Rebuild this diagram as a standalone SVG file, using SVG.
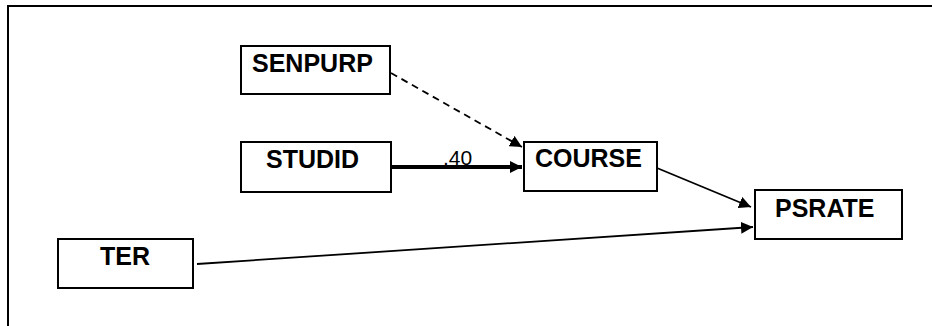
<svg xmlns="http://www.w3.org/2000/svg" width="932" height="326" viewBox="0 0 932 326">
<defs>
<style>
.box{fill:#fff;stroke:#000;stroke-width:2}
.lbl{font-family:"Liberation Sans",Arial,sans-serif;font-weight:bold;font-size:25px;fill:#000}
.edge{stroke:#000;stroke-width:1.8;fill:none}
.num{font-family:"Liberation Sans",Arial,sans-serif;font-size:21px;fill:#000}
</style>
<marker id="ahs" viewBox="0 0 10 10" refX="10" refY="5" markerWidth="12" markerHeight="12" markerUnits="userSpaceOnUse" orient="auto"><path d="M0,0 L10,5 L0,10 z" fill="#000"/></marker>
</defs>
<rect width="932" height="326" fill="#fff"/>
<path d="M8,326 L8,6 L932,6" fill="none" stroke="#000" stroke-width="2"/>
<g id="connectors">
<line class="edge" x1="391" y1="73" x2="522" y2="147" stroke-dasharray="7,5" marker-end="url(#ahs)"/>
<line x1="387" y1="167" x2="522" y2="167" stroke="#000" stroke-width="4" marker-end="url(#ahs)"/>
<text class="num" x="443" y="165">.40</text>
<line class="edge" x1="657" y1="168" x2="751" y2="207" marker-end="url(#ahs)"/>
<line class="edge" x1="197" y1="264" x2="753" y2="227" marker-end="url(#ahs)"/>
</g>
<g id="SENPURP"><rect class="box" x="241" y="46" width="149" height="48"/><text class="lbl" x="252" y="72">SENPURP</text></g>
<g id="STUDID"><rect class="box" x="241" y="142" width="150" height="50"/><text class="lbl" x="266" y="168">STUDID</text></g>
<g id="COURSE"><rect class="box" x="524" y="142" width="133" height="49"/><text class="lbl" x="535" y="167">COURSE</text></g>
<g id="PSRATE"><rect class="box" x="755" y="190" width="147" height="49"/><text class="lbl" x="775" y="217">PSRATE</text></g>
<g id="TER"><rect class="box" x="58" y="239" width="135" height="49"/><text class="lbl" x="100" y="265">TER</text></g>
</svg>
